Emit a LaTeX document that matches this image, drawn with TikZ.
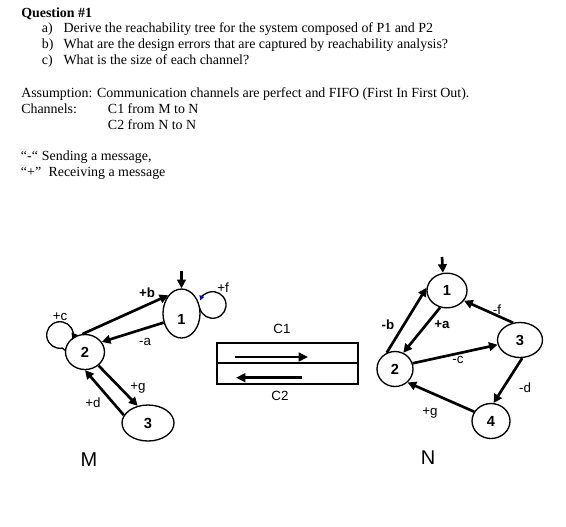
\documentclass[tikz,border=0pt]{standalone}
\usepackage{fontspec}
\setmainfont{Liberation Serif}
\newfontfamily\arialf{Liberation Sans}
\usetikzlibrary{shapes.geometric,arrows.meta}
\begin{document}
\begin{tikzpicture}[x=0.75pt,y=-0.75pt,
  txt/.style={anchor=base west, inner sep=0pt, font=\fontsize{10.45}{12}\selectfont},
  st/.style={draw, ellipse, line width=1pt, inner sep=0pt, font=\arialf\bfseries\fontsize{11}{12}\selectfont},
  num/.style={inner sep=0pt, font=\arialf\bfseries\fontsize{11}{12}\selectfont},
  lbl/.style={inner sep=0pt, font=\arialf\fontsize{10}{11}\selectfont},
  blbl/.style={inner sep=0pt, font=\arialf\bfseries\fontsize{10}{11}\selectfont},
  big/.style={inner sep=0pt, font=\arialf\fontsize{15}{16}\selectfont},
  arr/.style={line width=2pt, -{Triangle[length=6.5pt,width=6.5pt]}},
  loopline/.style={line width=1pt},
  chanbox/.style={draw, rectangle, line width=0.9pt, minimum width=105.75pt, inner sep=0pt},
  chanarr/.style={line width=2.1pt, -{Triangle[length=7pt,width=6.5pt]}}
]
\useasboundingbox (0,0) rectangle (566,526);

% ---------- text ----------
\node[txt, font=\bfseries\fontsize{10.45}{12}\selectfont] (q) at (21,17.5) {Question \#1};
\node[txt] (qa) at (41.7,32.7) {a)};
\node[txt] (qat) at (63.3,32.7) {Derive the reachability tree for the system composed of P1 and P2};
\node[txt] (qb) at (41.7,48.3) {b)};
\node[txt] (qbt) at (63.3,48.3) {What are the design errors that are captured by reachability analysis?};
\node[txt] (qc) at (41.7,64) {c)};
\node[txt] (qct) at (63.3,64) {What is the size of each channel?};
\node[txt] (as) at (21,97.3) {Assumption: Communication channels are perfect and FIFO (First In First Out).};
\node[txt] (ch) at (21,113.3) {Channels:};
\node[txt] (ch1t) at (107.7,113.3) {C1 from M to N};
\node[txt] (ch2t) at (107.7,129.3) {C2 from N to N};
\node[txt] (s1) at (20.7,160.7) {“-“};
\node[txt] (s1t) at (41.7,160.7) {Sending a message,};
\node[txt] (s2) at (20.7,176) {“+”};
\node[txt] (s2t) at (48.3,176) {Receiving a message};

% ---------- machine M ----------
\node[st, minimum width=27.75pt, minimum height=36.75pt] (m1) at (181.5,313.5) {};
\node[num] (m1t) at (181.5,319.5) {1};
\node[st, minimum width=29.25pt, minimum height=26.25pt] (m2) at (85,352) {2};
\node[st, minimum width=39pt, minimum height=27pt] (m3) at (148,423) {3};
\coordinate (mi) at (181.5,271);
\draw[arr] (mi) -- (m1.north);

\draw[arr] (m2.98) -- (m1.126);
\draw[arr] (m1.207) -- (m2.31);
\draw[arr] (m2.-45) -- (m3.121);
\draw[arr] (m3.162) -- (m2.south);

% self loop +c on 2
\draw[loopline, -{Triangle[length=5pt,width=5pt]}] (m2.175) -- (62.3,348.1)
  arc[start angle=80, end angle=382, radius=13.3];
% self loop +f on 1
\draw[loopline, -{Triangle[length=3.5pt,width=3.5pt,color=blue!70!black]}] (m1.10) -- (199.9,308.4)
  arc[start angle=165, end angle=-160, radius=13.3];

\node[blbl] (lb) at (147,293) {+b};
\node[lbl] (la) at (145,342) {-a};
\node[lbl] (lg) at (138,388) {+g};
\node[lbl] (ld) at (93,403) {+d};
\node[lbl] (lc) at (60,317) {+c};
\node[lbl] (lf) at (223,288) {+f};
\node[big] (mm) at (89,460) {M};

% ---------- channels ----------
\node[chanbox, minimum height=15pt] (cb1) at (287.5,353) {};
\node[chanbox, minimum height=15.75pt] (cb2) at (287.5,373.5) {};
\coordinate (c1s) at (235,357);
\coordinate (c1e) at (308,357);
\coordinate (c2s) at (302,377.7);
\coordinate (c2e) at (236,377.7);
\draw[chanarr] (c1s) -- (c1e);
\draw[chanarr] (c2s) -- (c2e);
\node[lbl] (lc1) at (282,329) {C1};
\node[lbl] (lc2) at (280,396) {C2};

% ---------- machine N ----------
\node[st, minimum width=30pt, minimum height=26pt] (n1) at (447,290.5) {1};
\node[st, minimum width=27pt, minimum height=26.25pt] (n2) at (395,369) {2};
\node[st, minimum width=33.75pt, minimum height=26.25pt] (n3) at (520,340) {3};
\node[st, minimum width=28.5pt, minimum height=26.25pt] (n4) at (491,421) {4};
\coordinate (ni) at (442,257);
\draw[arr] (ni) -- (n1.103);

\draw[arr] (n2.117) -- (n1.172);
\draw[arr] (n1.248) -- (n2.63);
\draw[arr] (n2.18) -- (n3.192);
\draw[arr] (n3.112) -- (n1.-31);
\draw[arr] (n3.-83) -- (n4.82);
\draw[arr] (n4.151) -- (n2.-47);

\node[blbl] (nb) at (388,325) {-b};
\node[blbl] (na) at (442,325) {+a};
\node[lbl] (nc) at (458,360) {-c};
\node[lbl] (nf) at (497,310) {-f};
\node[lbl] (nd) at (525,388) {-d};
\node[lbl] (ng) at (430,413) {+g};
\node[big] (nn) at (428,458) {N};
\end{tikzpicture}
\end{document}
